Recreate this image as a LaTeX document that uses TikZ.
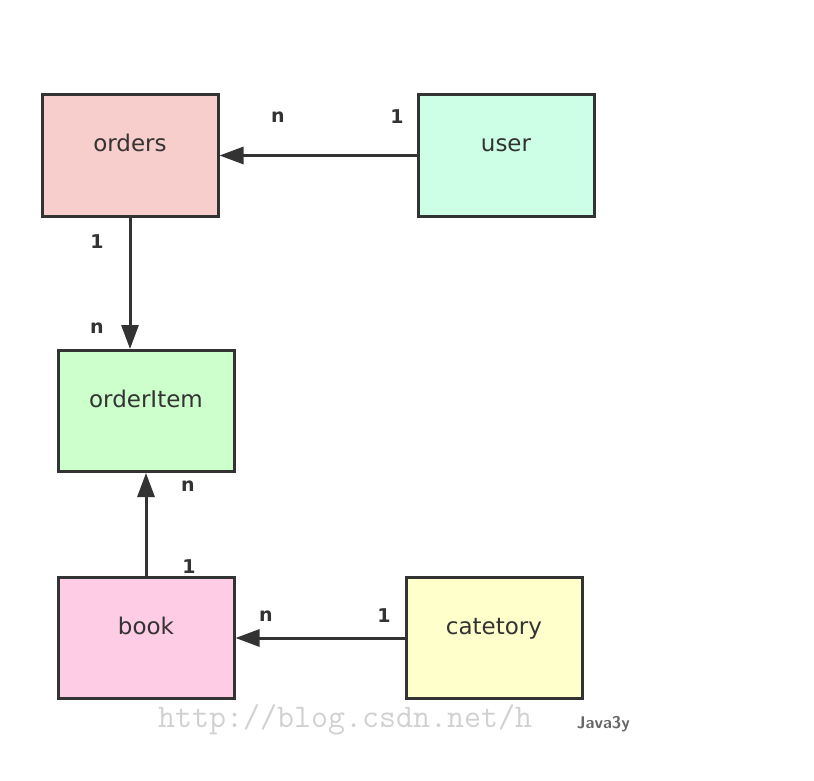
\documentclass[tikz,border=0pt]{standalone}
\usepackage{fontspec}
\setmainfont{DejaVu Sans}
\usepackage{tikz}
\usetikzlibrary{positioning,arrows.meta}
\usepackage{xcolor}
\definecolor{inkGray}{HTML}{333333}
\definecolor{ordersRed}{HTML}{F8CECC}
\definecolor{userMint}{HTML}{CCFFE6}
\definecolor{itemGreen}{HTML}{CCFFCC}
\definecolor{bookPink}{HTML}{FFCCE6}
\definecolor{catYellow}{HTML}{FFFFCC}

\begin{document}
\begin{tikzpicture}[x=1pt, y=-1pt,
    entity/.style={rectangle, draw=inkGray, line width=3pt, minimum width=176pt, minimum height=121pt, text=inkGray, font=\fontsize{23}{26}\selectfont, text height=17pt, text depth=24pt, inner sep=0pt},
    cardLabel/.style={text=inkGray, font=\fontsize{19}{22}\selectfont\bfseries, inner sep=0pt},
    relArrow/.style={-{Triangle[length=24pt, width=17pt]}, line width=3pt, draw=inkGray}
]
    \useasboundingbox (0,0) rectangle (814,781);

    \node[entity, fill=ordersRed] (orders) at (130, 155.5) {orders};
    \node[entity, fill=userMint] (user) at (506, 155.5) {user};
    \node[entity, fill=itemGreen] (orderItem) at (146, 411) {orderItem};
    \node[entity, fill=bookPink] (book) at (146, 638) {book};
    \node[entity, fill=catYellow] (catetory) at (494, 638) {catetory};

    \draw[relArrow] (user.west) -- (orders.east);
    \draw[relArrow] (orders.south) -- (orders.south |- orderItem.north);
    \draw[relArrow] (book.north) -- (orderItem.south);
    \draw[relArrow] (catetory.west) -- (book.east);

    % cardinalities
    \node[cardLabel] (nUser) at (278, 117) {n};
    \node[cardLabel] (oneUser) at (397, 117) {1};
    \node[cardLabel] (oneOrders) at (97, 242) {1};
    \node[cardLabel] (nOrders) at (97, 328) {n};
    \node[cardLabel] (nBook) at (188, 486) {n};
    \node[cardLabel] (oneBook) at (189, 567) {1};
    \node[cardLabel] (nCat) at (266, 616) {n};
    \node[cardLabel] (oneCat) at (384, 616) {1};

    % watermark
    \node[anchor=west, text=black!18, font=\ttfamily\fontsize{33}{35}\selectfont, inner sep=0pt] (mark) at (158, 720) {http://blog.csdn.net/h};
    \node[anchor=east, text=black!60, font=\sffamily\bfseries\fontsize{17}{19}\selectfont, inner sep=0pt] (logo) at (630, 724) {Java3y};
\end{tikzpicture}
\end{document}
